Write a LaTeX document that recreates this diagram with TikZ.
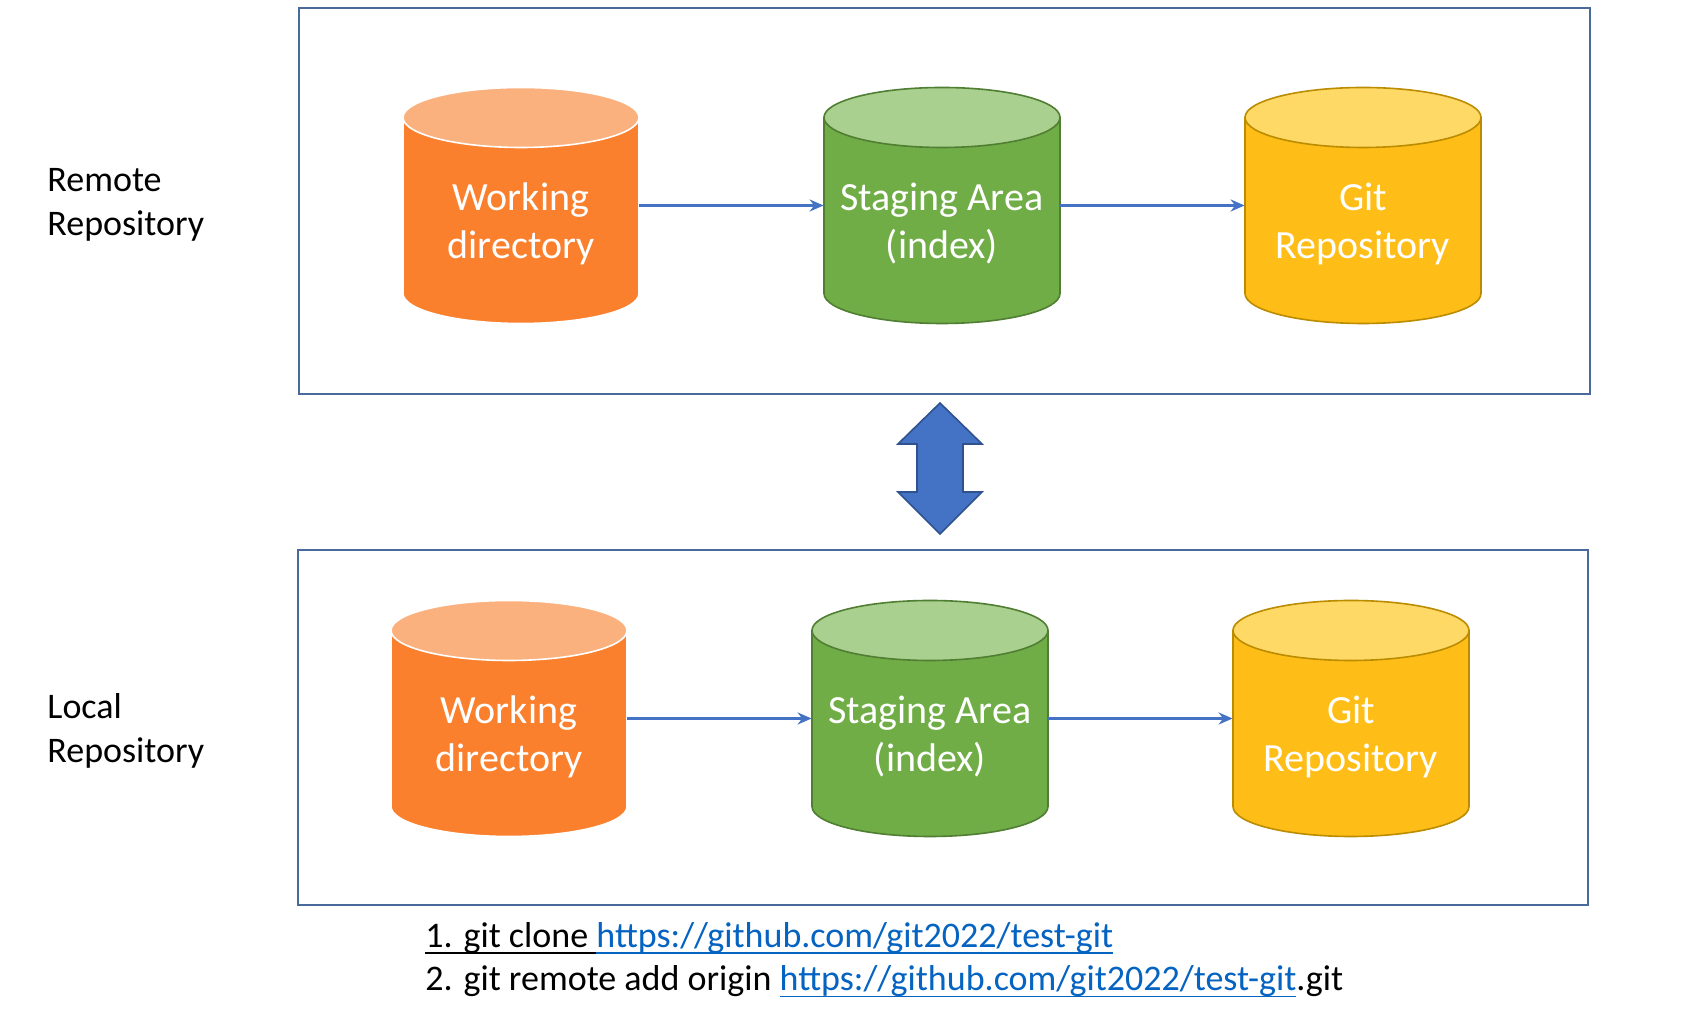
\documentclass[tikz,border=0pt]{standalone}
\usepackage{fontspec}
\setmainfont{Carlito}
\usetikzlibrary{arrows.meta}

\definecolor{wdbody}{HTML}{FA802E}
\definecolor{wdtop}{HTML}{FBB17E}
\definecolor{sabody}{HTML}{70AD47}
\definecolor{satop}{HTML}{A9D08E}
\definecolor{saline}{HTML}{507E32}
\definecolor{grbody}{HTML}{FFBD17}
\definecolor{grtop}{HTML}{FFD966}
\definecolor{grline}{HTML}{BC8C00}
\definecolor{boxline}{HTML}{4A6A9C}
\definecolor{flowblue}{HTML}{4472C4}
\definecolor{flowdark}{HTML}{2F528F}
\definecolor{linkblue}{HTML}{0563C1}

\tikzset{
    cyltext/.style={text=white, align=center, font=\fontsize{20}{24}\selectfont},
    sidelabel/.style={anchor=west, align=left, inner sep=0pt, font=\fontsize{18}{21.7}\selectfont},
    flowarrow/.style={draw=flowblue, line width=1.3pt, -{Stealth[length=7pt,width=6pt]}},
    repobox/.style={draw=boxline, line width=1pt}
}

% underline at a fixed depth
\newcommand{\undl}[1]{\setbox0\hbox{#1}\rlap{\rule[-3.2pt]{\wd0}{0.8pt}}\box0}

% name, x, y, body, top, line, text
\newcommand{\dbcyl}[7]{
    \path[draw=#6, fill=#4, line width=0.8pt] (#2-118,#3+88) -- (#2-118,#3-88)
        arc[start angle=180, end angle=360, x radius=118, y radius=30]
        -- (#2+118,#3+88) -- cycle;
    \path[draw=#6, fill=#5, line width=0.8pt] (#2,#3+88) ellipse[x radius=118, y radius=30];
    \node[minimum width=118pt, minimum height=118pt, inner sep=0pt] (#1) at (#2,#3) {};
    \node[cyltext] (#1txt) at (#2,#3-18) {#7};
}

\begin{document}
\begin{tikzpicture}[x=0.5pt, y=0.5pt]
    \useasboundingbox[fill=white] (0,0) rectangle (1705,1028);

    \path[repobox] (299,634) rectangle (1590,1020);
    \path[repobox] (298,123) rectangle (1588,478);

    \foreach \r/\y/\dx in {r/822.5/0, l/309.5/-12} {
        \dbcyl{wd\r}{521+\dx}{\y}{wdbody}{wdtop}{white}{Working\\directory}
        \dbcyl{sa\r}{942+\dx}{\y}{sabody}{satop}{saline}{Staging Area\\(index)}
        \dbcyl{gr\r}{1363+\dx}{\y}{grbody}{grtop}{grline}{Git\\Repository}
        \path[flowarrow] (wd\r.east) -- (sa\r.west);
        \path[flowarrow] (sa\r.east) -- (gr\r.west);
    }

    \node[sidelabel] (remote) at (47,823) {Remote\\Repository};
    \node[sidelabel] (local) at (47,297) {Local\\Repository};

    \path[draw=flowdark, fill=flowblue, line width=0.8pt] (940,625) -- ++(42,-41) -- ++(-19,0)
        -- ++(0,-48) -- ++(19,0) -- ++(-42,-42) -- ++(-42,42) -- ++(19,0)
        -- ++(0,48) -- ++(-19,0) -- cycle;

    \node[sidelabel] (cmds) at (425,68)
        {\undl{1. git clone }{\color{linkblue}\undl{https://github.com/git2022/test-git}}\\
         2. git remote add origin {\color{linkblue}\undl{https://github.com/git2022/test-git}}.git};

\end{tikzpicture}
\end{document}
